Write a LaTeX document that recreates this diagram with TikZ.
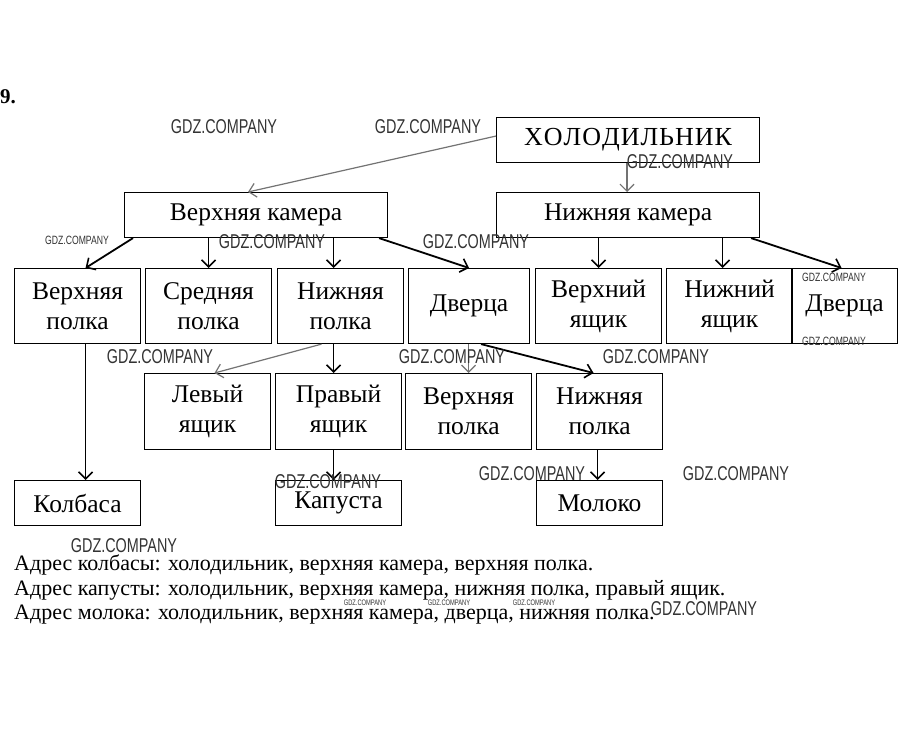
\documentclass[tikz,border=0pt]{standalone}
\usepackage{fontspec}
\setmainfont{Liberation Serif}
\newfontfamily\wmfont[FakeStretch=0.72]{Liberation Sans}
\usetikzlibrary{arrows.meta}
\begin{document}
\begin{tikzpicture}[x=1pt,y=-1pt,
  box/.style={draw, line width=1.1pt, inner sep=0pt, align=center, anchor=north west,
    font=\fontsize{25.5}{30}\selectfont},
  topbox/.style={box, minimum width=263pt, minimum height=45pt},
  rowbox/.style={box, minimum width=126pt, minimum height=75pt},
  endbox/.style={box, minimum width=126pt, minimum height=45pt},
  arr/.style={-{Straight Barb[length=7pt,width=14pt,line width=1.6pt]}, line width=1.8pt},
  garr/.style={-{Straight Barb[length=7pt,width=14pt,line width=1.2pt]}, line width=1.2pt, draw=black!55},
  wm/.style={font=\wmfont\fontsize{20}{20}\selectfont, text=black!80, inner sep=0pt},
  wms/.style={font=\wmfont\fontsize{12}{12}\selectfont, text=black!80, inner sep=0pt},
  wmt/.style={font=\wmfont\fontsize{8}{8}\selectfont, text=black!80, inner sep=0pt},
  addr/.style={anchor=west, font=\fontsize{22}{24}\selectfont, inner sep=0pt}]
\useasboundingbox (0,0) rectangle (909,730);
\fill[white] (0,0) rectangle (909,730);

\node[anchor=west, inner sep=0pt, font=\bfseries\fontsize{21}{24}\selectfont] (num) at (0,97) {9.};

% top level
\node[topbox, font=\fontsize{26}{30}\selectfont] (fr) at (496,117) {Х\kern1ptО\kern1ptЛ\kern1ptО\kern1ptД\kern1ptИ\kern1ptЛ\kern1ptЬ\kern1ptН\kern1ptИ\kern1ptК};
\node[topbox] (vk) at (124,192) {Верхняя камера};
\node[topbox] (nk) at (496,192) {Нижняя камера};

% second row
\node[rowbox] (vp) at (14,268) {Верхняя\\полка};
\node[rowbox] (sp) at (145,268) {Средняя\\полка};
\node[rowbox] (np) at (277,268) {Нижняя\\полка};
\node[rowbox, minimum width=121pt] (dv1) at (408,268) {Дверца};
\node[rowbox] (vya) at (535,268) {Верхний\\ящик};
\node[rowbox] (nya) at (666,268) {Нижний\\ящик};
\node[rowbox, minimum width=106pt] (dv2) at (791,268) {Дверца};

% third row
\node[rowbox, minimum height=76pt] (lya) at (144,373) {Левый\\ящик};
\node[rowbox, minimum height=76pt] (pya) at (275,373) {Правый\\ящик};
\node[rowbox, minimum height=76pt] (vp2) at (405,373) {Верхняя\\полка};
\node[rowbox, minimum height=76pt] (np2) at (536,373) {Нижняя\\полка};

% fourth row
\node[endbox] (kol) at (14,480) {Колбаса};
\node[endbox] (kap) at (275,480) {Капуста};
\node[endbox] (mol) at (536,480) {Молоко};

% connectors
\draw[garr] ([yshift=4pt]fr.west) -- ([xshift=124pt]vk.north west);
\draw[garr] ([xshift=131pt]fr.south west) -- ([xshift=131pt]nk.north west);

\draw[arr] ([xshift=9pt]vk.south west) -- ([xshift=8pt]vp.north);
\draw[arr] (vk.south -| sp.north) -- (sp.north);
\draw[arr] ([xshift=-7pt]vk.south -| np.north) -- ([xshift=-7pt]np.north);
\draw[arr] ([xshift=-9pt]vk.south east) -- (dv1.north);

\draw[arr] (nk.south -| vya.north) -- (vya.north);
\draw[arr] ([xshift=-7pt]nk.south -| nya.north) -- ([xshift=-7pt]nya.north);
\draw[arr] ([xshift=-9pt]nk.south east) -- ([xshift=-3pt]dv2.north);

\draw[garr] ([xshift=-19pt]np.south) -- ([xshift=7pt]lya.north);
\draw[arr] ([xshift=-5pt]pya.north |- np.south) -- ([xshift=-5pt]pya.north);
\draw[garr] (vp2.north |- dv1.south) -- (vp2.north);
\draw[arr] ([xshift=12pt]dv1.south) -- ([xshift=-6pt]np2.north);

\draw[arr] ([xshift=8pt]vp.south) -- ([xshift=8pt]kol.north);
\draw[arr] ([xshift=-5pt]pya.south) -- ([xshift=-5pt]kap.north);
\draw[arr] ([xshift=-2pt]np2.south) -- ([xshift=-2pt]mol.north);

% addresses
\node[addr] (a1) at (14,565) {Адрес колбасы: холодильник, верхняя камера, верхняя полка.};
\node[addr] (a2) at (14,590) {Адрес капусты: холодильник, верхняя камера, нижняя полка, правый ящик.};
\node[addr] (a3) at (14,615) {Адрес молока: холодильник, верхняя камера, дверца, нижняя полка.};

% watermarks
\node[wm] (w1) at (224,127) {GDZ.COMPANY};
\node[wm] (w2) at (428,127) {GDZ.COMPANY};
\node[wm] (w3) at (680,162) {GDZ.COMPANY};
\node[wms] (w4) at (77,240) {GDZ.COMPANY};
\node[wm] (w5) at (272,242) {GDZ.COMPANY};
\node[wm] (w6) at (476,242) {GDZ.COMPANY};
\node[wms] (w7) at (834,277) {GDZ.COMPANY};
\node[wms] (w8) at (834,341) {GDZ.COMPANY};
\node[wm] (w9) at (160,357) {GDZ.COMPANY};
\node[wm] (w10) at (452,357) {GDZ.COMPANY};
\node[wm] (w11) at (656,357) {GDZ.COMPANY};
\node[wm] (w12) at (328,482) {GDZ.COMPANY};
\node[wm] (w13) at (532,474) {GDZ.COMPANY};
\node[wm] (w14) at (736,474) {GDZ.COMPANY};
\node[wm] (w15) at (124,546) {GDZ.COMPANY};
\node[wmt] (w16) at (365,603) {GDZ.COMPANY};
\node[wmt] (w17) at (449,603) {GDZ.COMPANY};
\node[wmt] (w18) at (534,603) {GDZ.COMPANY};
\node[wm] (w19) at (704,609) {GDZ.COMPANY};
\end{tikzpicture}
\end{document}
